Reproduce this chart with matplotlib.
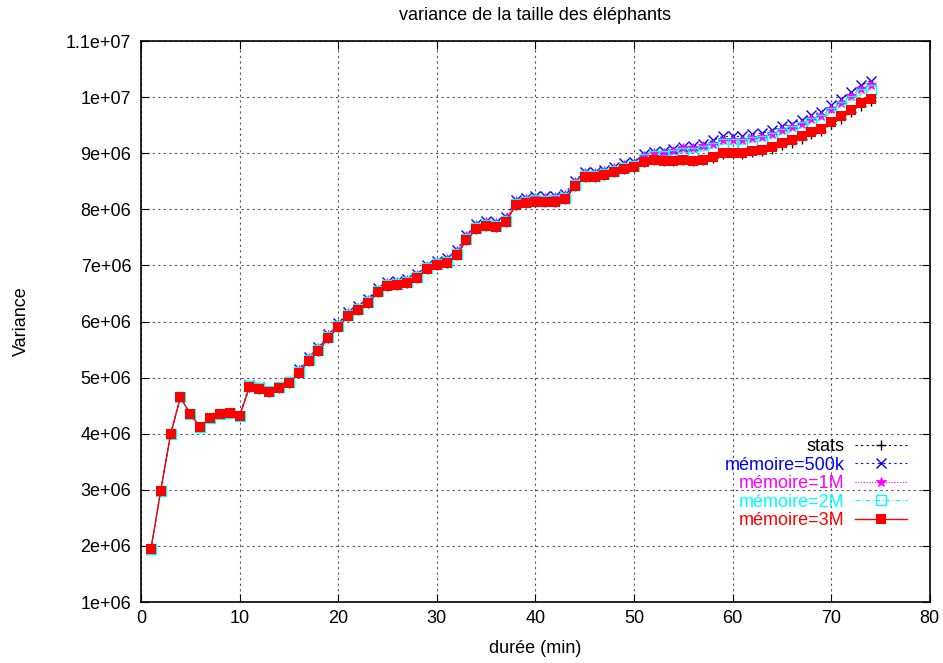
import numpy as np
import matplotlib.pyplot as plt

plt.rcParams['font.family'] = ['Liberation Sans', 'DejaVu Sans']

duree = np.arange(1, 75)

# variance, in millions
stats = [1.94, 2.98, 3.99, 4.65, 4.35, 4.12, 4.28, 4.35, 4.37, 4.32,
         4.83, 4.80, 4.74, 4.81, 4.90, 5.08, 5.30, 5.47, 5.71, 5.90,
         6.10, 6.20, 6.33, 6.52, 6.63, 6.65, 6.69, 6.78, 6.94, 7.01,
         7.04, 7.18, 7.45, 7.65, 7.70, 7.68, 7.77, 8.08, 8.11, 8.14,
         8.13, 8.14, 8.18, 8.41, 8.57, 8.57, 8.61, 8.66, 8.72, 8.75,
         8.85, 8.88, 8.86, 8.86, 8.88, 8.86, 8.88, 8.91, 8.98, 8.98,
         8.98, 9.02, 9.04, 9.07, 9.14, 9.19, 9.26, 9.34, 9.40, 9.52,
         9.62, 9.74, 9.85, 9.93]

mem_500k = [1.94, 2.98, 3.99, 4.65, 4.35, 4.12, 4.28, 4.35, 4.37, 4.32,
            4.86, 4.83, 4.77, 4.84, 4.93, 5.15, 5.37, 5.54, 5.78, 5.97,
            6.17, 6.27, 6.40, 6.59, 6.70, 6.72, 6.76, 6.85, 7.01, 7.08,
            7.13, 7.27, 7.54, 7.74, 7.79, 7.77, 7.86, 8.17, 8.20, 8.23,
            8.23, 8.24, 8.28, 8.51, 8.67, 8.67, 8.71, 8.76, 8.82, 8.85,
            8.98, 9.03, 9.04, 9.07, 9.12, 9.13, 9.16, 9.23, 9.30, 9.30,
            9.30, 9.34, 9.36, 9.41, 9.48, 9.53, 9.60, 9.68, 9.74, 9.86,
            9.96, 10.09, 10.21, 10.29]

mem_1m = [1.94, 2.98, 3.99, 4.65, 4.35, 4.12, 4.28, 4.35, 4.37, 4.32,
          4.84, 4.81, 4.75, 4.82, 4.91, 5.13, 5.35, 5.52, 5.76, 5.95,
          6.15, 6.25, 6.38, 6.57, 6.68, 6.70, 6.74, 6.83, 6.99, 7.06,
          7.11, 7.25, 7.52, 7.72, 7.77, 7.75, 7.84, 8.15, 8.18, 8.21,
          8.21, 8.22, 8.26, 8.49, 8.65, 8.65, 8.69, 8.74, 8.80, 8.83,
          8.95, 9.00, 9.01, 9.04, 9.09, 9.10, 9.13, 9.16, 9.23, 9.23,
          9.23, 9.27, 9.29, 9.34, 9.41, 9.46, 9.53, 9.61, 9.67, 9.79,
          9.89, 10.02, 10.14, 10.22]

mem_2m = [1.94, 2.98, 3.99, 4.65, 4.35, 4.12, 4.28, 4.35, 4.37, 4.32,
          4.85, 4.82, 4.76, 4.83, 4.92, 5.10, 5.32, 5.49, 5.73, 5.92,
          6.12, 6.22, 6.35, 6.54, 6.65, 6.67, 6.71, 6.80, 6.96, 7.03,
          7.06, 7.20, 7.47, 7.67, 7.72, 7.70, 7.79, 8.10, 8.13, 8.16,
          8.15, 8.16, 8.20, 8.43, 8.59, 8.59, 8.63, 8.68, 8.74, 8.77,
          8.90, 8.95, 8.95, 8.97, 9.01, 9.01, 9.04, 9.09, 9.16, 9.16,
          9.16, 9.20, 9.22, 9.27, 9.34, 9.39, 9.46, 9.54, 9.60, 9.72,
          9.82, 9.94, 10.05, 10.13]

mem_3m = [1.94, 2.98, 3.99, 4.65, 4.35, 4.12, 4.28, 4.35, 4.37, 4.32,
          4.83, 4.80, 4.74, 4.81, 4.90, 5.08, 5.30, 5.47, 5.71, 5.90,
          6.10, 6.20, 6.33, 6.52, 6.63, 6.65, 6.69, 6.78, 6.94, 7.01,
          7.04, 7.18, 7.45, 7.65, 7.70, 7.68, 7.77, 8.08, 8.11, 8.14,
          8.13, 8.14, 8.18, 8.41, 8.57, 8.57, 8.61, 8.66, 8.72, 8.75,
          8.85, 8.88, 8.86, 8.86, 8.88, 8.86, 8.88, 8.93, 9.00, 9.00,
          9.00, 9.04, 9.06, 9.11, 9.18, 9.23, 9.30, 9.38, 9.44, 9.56,
          9.66, 9.78, 9.89, 9.97]

ytick_vals = [1e6, 2e6, 3e6, 4e6, 5e6, 6e6, 7e6, 8e6, 9e6, 1e7, 1.1e7]
ytick_labels = ['1e+06', '2e+06', '3e+06', '4e+06', '5e+06', '6e+06',
                '7e+06', '8e+06', '9e+06', '1e+07', '1.1e+07']

fs = 13

fig = plt.figure(figsize=(9.43, 6.63), dpi=100)
ax = fig.add_axes([0.1495, 0.092, 0.8365, 0.846])

scale = 1e6
ax.plot(duree, np.array(stats) * scale, color='black', lw=0.8,
        ls=(0, (2, 3)), marker='+', ms=6.5, mew=1, label='stats')
ax.plot(duree, np.array(mem_500k) * scale, color='blue', lw=0.8,
        ls=(0, (2, 3)), marker='x', ms=6.5, mew=1, label='mémoire=500k')
ax.plot(duree, np.array(mem_1m) * scale, color='magenta', lw=0.8,
        ls=(0, (1, 1.5)), marker='*', ms=7, mew=0.6, label='mémoire=1M')
ax.plot(duree, np.array(mem_2m) * scale, color='cyan', lw=0.8,
        ls=(0, (4, 2, 1, 2)), marker='s', ms=6.5, mfc='none', mew=1,
        label='mémoire=2M')
ax.plot(duree, np.array(mem_3m) * scale, color='red', lw=1,
        ls='-', marker='s', ms=6.5, mew=0, label='mémoire=3M')

ax.set_xlim(0, 80)
ax.set_ylim(1e6, 1.1e7)
ax.set_xticks(range(0, 81, 10))
ax.set_yticks(ytick_vals)
ax.set_yticklabels(ytick_labels)
ax.tick_params(direction='in', top=True, right=True, length=6, width=0.8,
               labelsize=fs)
ax.tick_params(axis='y', pad=7)
ax.tick_params(axis='x', pad=6)
ax.grid(True, color='#555555', ls=(0, (2, 3)), lw=0.8)
for s in ax.spines.values():
    s.set_linewidth(1.2)

ax.set_title('variance de la taille des éléphants', fontsize=fs, pad=15)
ax.set_xlabel('durée (min)', fontsize=fs, labelpad=9)
ax.set_ylabel('Variance', fontsize=fs, labelpad=26)

leg = ax.legend(loc='lower right', bbox_to_anchor=(0.971, 0.13),
                frameon=False, markerfirst=False, labelcolor='linecolor',
                fontsize=fs, handlelength=2.9, handletextpad=0.55,
                labelspacing=0.08, borderaxespad=0, borderpad=0)
for t in leg.get_texts():
    t.set_ha('right')

fig.savefig('out.png', dpi=100)
